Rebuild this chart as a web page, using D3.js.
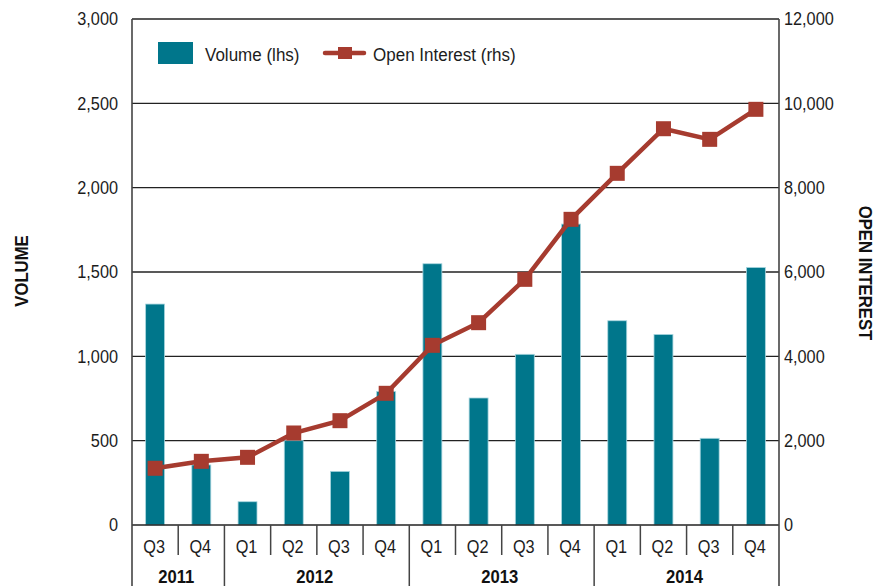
<!DOCTYPE html>
<html>
<head>
<meta charset="utf-8">
<script src="https://cdn.jsdelivr.net/npm/d3@7"></script>
<style>
  body { margin: 0; background: #fff; }
  svg { display: block; font-family: "Liberation Sans", Arial, sans-serif; }
</style>
</head>
<body>
<div id="container"></div>
<script>
/* DATA */
const quarters = ["Q3", "Q4", "Q1", "Q2", "Q3", "Q4", "Q1", "Q2", "Q3", "Q4", "Q1", "Q2", "Q3", "Q4"]
const quarterYears = ["2011", "2011", "2012", "2012", "2012", "2012", "2013", "2013", "2013", "2013", "2014", "2014", "2014", "2014"]
const years = ["2011", "2012", "2013", "2014"]
const volume = [1310, 356, 138, 500, 318, 792, 1549, 753, 1012, 1784, 1211, 1130, 514, 1527]
const openInterest = [1345, 1510, 1605, 2182, 2474, 3123, 4261, 4798, 5826, 7249, 8340, 9398, 9146, 9858]
const volumeTicks = [0, 500, 1000, 1500, 2000, 2500, 3000]
const oiTicks = [0, 2000, 4000, 6000, 8000, 10000, 12000]

/* CONSTANTS */
const W = 873, H = 586
const plotLeft = 132, plotRight = 779, plotTop = 19, base = 525
const barColor = "#00768b", lineColor = "#a63b2f", ink = "#1c1c1c"
const SX = 0.88   // condensed look for the narrow typeface

const data = quarters.map((q, i) => ({key: i, q: q, year: quarterYears[i], vol: volume[i], oi: openInterest[i]}))

// squeeze text horizontally, keeping its anchor x
function narrow(sel, sx) {
  sel.each(function() {
    const t = d3.select(this)
    const x = +t.attr("x") || 0
    t.attr("x", x / sx).attr("transform", `scale(${sx},1)`)
  })
}

/* SCALES */
const xScale = d3.scaleBand()
  .domain(data.map(d => d.key))
  .range([plotLeft, plotRight])
  .paddingInner(0.59)
  .paddingOuter(0.295)
const step = xScale.step()

const yVol = d3.scaleLinear().domain([0, 3000]).range([base, plotTop])
const yOI = d3.scaleLinear().domain([0, 12000]).range([base, plotTop])
const fmt = d3.format(",")

const svg = d3.select("#container")
  .append("svg")
   .attr("width", W)
   .attr("height", H)

// gridlines
svg.append("g")
  .selectAll("line")
  .data(volumeTicks.filter(t => t > 0))
  .join("line")
   .attr("x1", plotLeft).attr("x2", plotRight)
   .attr("y1", d => yVol(d)).attr("y2", d => yVol(d))
   .attr("stroke", "#222").attr("stroke-width", 1.3)

// bars
svg.selectAll("rect.bar")
  .data(data)
  .join("rect")
   .attr("class", "bar")
   .attr("x", d => xScale(d.key))
   .attr("y", d => yVol(d.vol))
   .attr("width", xScale.bandwidth())
   .attr("height", d => base - yVol(d.vol))
   .attr("fill", barColor)
   .attr("stroke", "#a9d6df")
   .attr("stroke-width", 0.8)

// open interest line
const line = d3.line()
  .x(d => xScale(d.key) + xScale.bandwidth() / 2)
  .y(d => yOI(d.oi))

svg.append("path")
  .datum(data)
  .attr("d", line)
  .attr("fill", "none")
  .attr("stroke", lineColor)
  .attr("stroke-width", 4.5)

svg.selectAll("rect.marker")
  .data(data)
  .join("rect")
   .attr("class", "marker")
   .attr("x", d => xScale(d.key) + xScale.bandwidth() / 2 - 7.5)
   .attr("y", d => yOI(d.oi) - 7.5)
   .attr("width", 15)
   .attr("height", 15)
   .attr("fill", lineColor)

// axes (left / right with labels only)
const yAxisL = d3.axisLeft(yVol).tickValues(volumeTicks).tickFormat(fmt).tickSize(0).tickPadding(14)
const yAxisR = d3.axisRight(yOI).tickValues(oiTicks).tickFormat(fmt).tickSize(0).tickPadding(5)

const gL = svg.append("g").attr("transform", `translate(${plotLeft},0)`).call(yAxisL)
const gR = svg.append("g").attr("transform", `translate(${plotRight},0)`).call(yAxisR)
;[gL, gR].forEach(g => {
  g.attr("font-family", null).attr("font-size", null)
  g.select(".domain").remove()
  g.selectAll("text").attr("font-size", 18.5).attr("fill", ink).call(narrow, SX)
})

// bottom axis line and frame
svg.append("line")
  .attr("x1", plotLeft).attr("x2", plotRight).attr("y1", base).attr("y2", base)
  .attr("stroke", "#222").attr("stroke-width", 1.5)
svg.append("line")
  .attr("x1", plotLeft).attr("x2", plotLeft).attr("y1", plotTop).attr("y2", H)
  .attr("stroke", "#444").attr("stroke-width", 1.6)
svg.append("line")
  .attr("x1", plotRight).attr("x2", plotRight).attr("y1", plotTop).attr("y2", H)
  .attr("stroke", "#444").attr("stroke-width", 1.6)

// quarter separators
svg.append("g")
  .selectAll("line")
  .data(data.filter((d, i) => i > 0))
  .join("line")
   .attr("x1", d => xScale(d.key) - xScale.paddingInner() * step / 2)
   .attr("x2", d => xScale(d.key) - xScale.paddingInner() * step / 2)
   .attr("y1", base)
   .attr("y2", d => quarterYears[d.key - 1] !== d.year ? H : 555)
   .attr("stroke", "#444").attr("stroke-width", 1.5)

// quarter labels
svg.append("g")
  .selectAll("text")
  .data(data)
  .join("text")
   .attr("x", d => xScale(d.key) + xScale.bandwidth() / 2 - 1)
   .attr("y", 547)
   .attr("dy", "0.35em")
   .attr("text-anchor", "middle")
   .attr("font-size", 18.5)
   .attr("fill", ink)
   .text(d => d.q)
   .call(narrow, SX)

// year labels
svg.append("g")
  .selectAll("text")
  .data(years)
  .join("text")
   .attr("x", y => {
     const ks = data.filter(d => d.year === y).map(d => d.key)
     return (xScale(ks[0]) + xScale(ks[ks.length - 1]) + xScale.bandwidth()) / 2 - 2
   })
   .attr("y", 577)
   .attr("dy", "0.35em")
   .attr("text-anchor", "middle")
   .attr("font-size", 18.5)
   .attr("font-weight", "bold")
   .attr("fill", "#111")
   .text(y => y)
   .call(narrow, 0.9)

// axis titles
svg.append("text")
  .attr("transform", `translate(28,271) rotate(-90) scale(${SX},1)`)
  .attr("text-anchor", "middle")
  .attr("font-size", 19)
  .attr("font-weight", "bold")
  .attr("fill", "#111")
  .text("VOLUME")

svg.append("text")
  .attr("transform", `translate(859,273) rotate(90) scale(${SX},1)`)
  .attr("text-anchor", "middle")
  .attr("font-size", 19)
  .attr("font-weight", "bold")
  .attr("fill", "#111")
  .text("OPEN INTEREST")

// legend
const legend = svg.append("g")
legend.append("rect")
  .attr("x", 158).attr("y", 42).attr("width", 35).attr("height", 22)
  .attr("fill", barColor)
legend.append("text")
  .attr("x", 205).attr("y", 55).attr("dy", "0.35em")
  .attr("font-size", 18.5).attr("fill", ink)
  .text("Volume (lhs)")
  .call(narrow, 0.92)
legend.append("line")
  .attr("x1", 325).attr("x2", 364).attr("y1", 53).attr("y2", 53)
  .attr("stroke", lineColor).attr("stroke-width", 4.5).attr("stroke-linecap", "round")
legend.append("rect")
  .attr("x", 338).attr("y", 47).attr("width", 14).attr("height", 12)
  .attr("fill", lineColor)
legend.append("text")
  .attr("x", 373).attr("y", 55).attr("dy", "0.35em")
  .attr("font-size", 18.5).attr("fill", ink)
  .text("Open Interest (rhs)")
  .call(narrow, 0.92)
</script>
</body>
</html>
